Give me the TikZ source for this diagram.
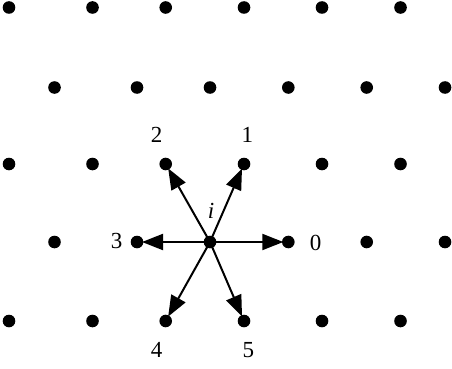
\documentclass[tikz,border=0pt]{standalone}
\usepackage{fontspec}
\setmainfont{Liberation Serif}
\usetikzlibrary{arrows.meta}
\begin{document}
\begin{tikzpicture}[x=1pt,y=-1pt,
  dot/.style={circle,fill=black,inner sep=0pt,minimum size=12.6pt},
  lab/.style={font=\fontsize{23}{27}\selectfont,inner sep=0pt},
  arr/.style={line width=2pt,shorten >=-1.5pt,-{Triangle[length=21pt,width=16pt]}}]
\useasboundingbox (0,0) rectangle (452,369);
\foreach \r/\y in {1/7.5,3/164,5/321}{
  \foreach \c/\x in {1/9,2/92.5,3/165.7,4/244,5/322,6/400.5}
    \node[dot] (d\r\c) at (\x,\y) {};
}
\foreach \r/\y in {2/87.5,4/242}{
  \foreach \c/\x in {1/54.5,2/137,3/210,4/288.3,5/366.7,6/445}
    \node[dot] (d\r\c) at (\x,\y) {};
}
\draw[arr] (d43.center) -- (d44);
\draw[arr] (d43.center) -- (d34);
\draw[arr] (d43.center) -- (d33);
\draw[arr] (d43.center) -- (d42);
\draw[arr] (d43.center) -- (d53);
\draw[arr] (d43.center) -- (d54);
\node[lab] (l0) at (315.5,243) {0};
\node[lab] (l1) at (247.3,135) {1};
\node[lab] (l2) at (156.7,135) {2};
\node[lab] (l3) at (116.5,241) {3};
\node[lab] (l4) at (156.7,350) {4};
\node[lab] (l5) at (248.3,350) {5};
\node[lab] (li) at (211,211) {\itshape i};
\end{tikzpicture}
\end{document}
